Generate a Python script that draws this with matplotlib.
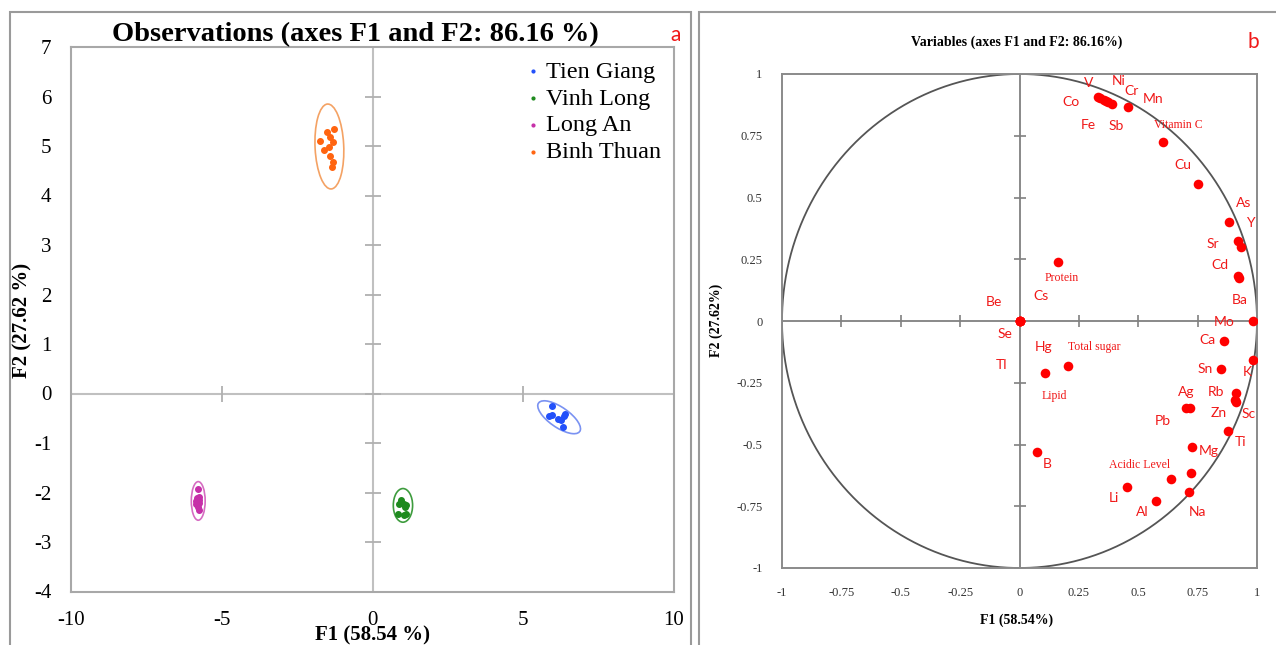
import numpy as np
import matplotlib
matplotlib.use('Agg')
import matplotlib.pyplot as plt
from matplotlib.patches import Ellipse, Rectangle

# ---------------- panel a : observations ----------------
groups = ['Tien Giang', 'Vinh Long', 'Long An', 'Binh Thuan']
group_colors = ['#2250FA', '#1E8A1E', '#C62FA8', '#FF6410']
ellipse_colors = ['#7A92F2', '#3E9C3E', '#D66CC2', '#F4A264']

tien_giang_f1 = [5.96, 5.85, 5.96, 6.15, 6.26, 6.34, 6.39, 6.31]
tien_giang_f2 = [-0.26, -0.46, -0.44, -0.52, -0.53, -0.46, -0.42, -0.67]
vinh_long_f1 = [0.93, 1.04, 0.89, 1.10, 0.85, 1.04, 1.12, 0.96, 1.08]
vinh_long_f2 = [-2.15, -2.23, -2.23, -2.26, -2.44, -2.46, -2.44, -2.20, -2.30]
long_an_f1 = [-5.79, -5.83, -5.76, -5.86, -5.74, -5.80, -5.84, -5.77, -5.78, -5.75]
long_an_f2 = [-1.93, -2.12, -2.10, -2.18, -2.16, -2.20, -2.24, -2.22, -2.30, -2.35]
binh_thuan_f1 = [-1.27, -1.50, -1.41, -1.75, -1.32, -1.45, -1.61, -1.41, -1.30, -1.34]
binh_thuan_f2 = [5.34, 5.28, 5.19, 5.10, 5.09, 4.97, 4.92, 4.79, 4.68, 4.57]

# confidence ellipses: centre, major, minor, angle (data units)
ell_center_f1 = [6.19, 1.01, -5.78, -1.43]
ell_center_f2 = [-0.48, -2.26, -2.17, 4.99]
ell_major = [1.50, 0.68, 0.78, 1.72]
ell_minor = [0.45, 0.64, 0.46, 0.95]
ell_angle = [-20, 90, 90, 95]

obs_xticks = [-10, -5, 0, 5, 10]
obs_yticks = list(range(-4, 8))

# ---------------- panel b : variables ----------------
var_names = ['V', 'Ni', 'Co', 'Fe', 'Cr', 'Sb', 'Mn', 'Vitamin C', 'Cu', 'As',
             'Sr', 'Y', 'Cd', 'Ba', 'Mo', 'Ca', 'K', 'Sn', 'Rb', 'Sc', 'Zn',
             'Ag', 'Pb', 'Ti', 'Mg', '', 'Acidic Level', 'Na', 'Li', 'Al', 'B',
             'Lipid', 'Total sugar', 'Protein', 'Hg', 'Cs', 'Be', 'Se', 'Tl']
var_f1 = [0.330, 0.340, 0.354, 0.365, 0.373, 0.389, 0.456, 0.604, 0.751, 0.882,
          0.922, 0.932, 0.920, 0.923, 0.983, 0.862, 0.983, 0.848, 0.911, 0.911, 0.906,
          0.716, 0.702, 0.876, 0.726, 0.723, 0.639, 0.715, 0.452, 0.574, 0.073,
          0.108, 0.204, 0.164, 0.0, 0.0, 0.0, 0.0, 0.0]
var_f2 = [0.908, 0.904, 0.895, 0.889, 0.887, 0.877, 0.865, 0.726, 0.555, 0.400,
          0.324, 0.301, 0.183, 0.176, 0.001, -0.080, -0.158, -0.196, -0.290, -0.327, -0.320,
          -0.351, -0.351, -0.444, -0.511, -0.614, -0.641, -0.691, -0.671, -0.730, -0.530,
          -0.212, -0.183, 0.240, 0.0, 0.0, 0.0, 0.0, 0.0]
serif_vars = ['Vitamin C', 'Acidic Level', 'Lipid', 'Total sugar', 'Protein']

# label offsets in pixels (placement only)
label_offsets = {
    'V': (-9, 14), 'Ni': (18, 17), 'Co': (-33, -2), 'Fe': (-18, -24), 'Cr': (23, 11),
    'Sb': (4, -22), 'Mn': (25, 8), 'Vitamin C': (15, 17), 'Cu': (-15, 19), 'As': (15, 19),
    'Sr': (-26, -3), 'Y': (9, 24), 'Cd': (-18, 11), 'Ba': (1, -22), 'Mo': (-29, -1),
    'Ca': (-17, 1), 'K': (-6, -12), 'Sn': (-16, 0), 'Rb': (-20, 1), 'Sc': (13, -12),
    'Zn': (-16, -13), 'Ag': (-3, 16), 'Pb': (-23, -13), 'Ti': (13, -11), 'Mg': (17, -4),
    'Acidic Level': (-32, 14), 'Na': (8, -20), 'Li': (-13, -11), 'Al': (-14, -11),
    'B': (10, -12), 'Lipid': (9, -23), 'Total sugar': (26, 19), 'Protein': (3, -16),
    'Hg': (24, -26), 'Cs': (22, 25), 'Be': (-26, 19), 'Se': (-15, -13), 'Tl': (-18, -44),
}
var_ticks = [-1, -0.75, -0.5, -0.25, 0, 0.25, 0.5, 0.75, 1]
var_ticklabels = ['-1', '-0.75', '-0.5', '-0.25', '0', '0.25', '0.5', '0.75', '1']

plt.rcParams['axes.unicode_minus'] = False

W, H = 1276, 645
fig = plt.figure(figsize=(W / 100, H / 100), dpi=100)
SERIF = 'Liberation Serif'
SANS = 'Lato'
RED = '#F01818'


def fx(px):
    return px / W


def fy(py):
    return 1 - py / H


# panel frames
fig.patches.append(Rectangle((fx(10), fy(660)), fx(681), (660 - 12) / H, transform=fig.transFigure,
                             fill=False, ec='#9A9A9A', lw=1.5))
fig.patches.append(Rectangle((fx(699), fy(660)), fx(590), (660 - 12) / H, transform=fig.transFigure,
                             fill=False, ec='#9A9A9A', lw=1.5))

# ---- panel a ----
ax1 = fig.add_axes([fx(71), fy(591.5), fx(674 - 71), (591.5 - 47) / H])
ax1.set_xlim(-10, 10)
ax1.set_ylim(-4, 7)
ax1.axhline(0, color='#C0C0C0', lw=1.5, zorder=1)
ax1.axvline(0, color='#C0C0C0', lw=1.5, zorder=1)
xt = [t for t in obs_xticks if t != 0]
ax1.plot(xt, np.zeros(len(xt)), ls='none', marker='|', ms=11, mew=1.3, color='#B0B0B0', zorder=1)
ax1.plot(np.zeros(len(obs_yticks)), obs_yticks, ls='none', marker='_', ms=11, mew=1.3,
         color='#B0B0B0', zorder=1)

all_f1 = [tien_giang_f1, vinh_long_f1, long_an_f1, binh_thuan_f1]
all_f2 = [tien_giang_f2, vinh_long_f2, long_an_f2, binh_thuan_f2]
for i, g in enumerate(groups):
    ax1.scatter(all_f1[i], all_f2[i], s=16, color=group_colors[i], label=g, zorder=3)
    ax1.add_patch(Ellipse((ell_center_f1[i], ell_center_f2[i]), ell_major[i], ell_minor[i],
                          angle=ell_angle[i], fill=False, ec=ellipse_colors[i], lw=1.2, zorder=2))

ax1.set_xticks(obs_xticks)
ax1.set_yticks(obs_yticks)
ax1.tick_params(length=0, labelsize=15, pad=14)
for lab in ax1.get_xticklabels() + ax1.get_yticklabels():
    lab.set_family(SERIF)
for s in ax1.spines.values():
    s.set_color('#A8A8A8')
    s.set_linewidth(1.5)
leg = ax1.legend(loc='upper right', frameon=False, prop={'family': SERIF, 'size': 17.5},
                 handletextpad=0.1, labelspacing=0.2, markerscale=0.5,
                 bbox_to_anchor=(1.015, 1.015), handlelength=0.9)

fig.text(fx(355), fy(35), 'Observations (axes F1 and F2: 86.16 %)', family=SERIF,
         weight='bold', size=20.5, ha='center', va='center')
fig.text(fx(676), fy(35), 'a', family=SANS, color=RED, size=15, ha='center', va='center')
fig.text(fx(372), fy(635), 'F1 (58.54 %)', family=SERIF, weight='bold', size=15,
         ha='center', va='center')
fig.text(fx(22), fy(320), 'F2 (27.62 %)', family=SERIF, weight='bold', size=15,
         ha='center', va='center', rotation=90)

# ---- panel b ----
ax2 = fig.add_axes([fx(782), fy(568), fx(1257 - 782), (568 - 74) / H])
ax2.set_xlim(-1, 1)
ax2.set_ylim(-1, 1)
ax2.axhline(0, color='#808080', lw=1.3, zorder=1)
ax2.axvline(0, color='#808080', lw=1.3, zorder=1)
vt = [t for t in var_ticks if t != 0]
ax2.plot(vt, np.zeros(len(vt)), ls='none', marker='|', ms=8, mew=1.2, color='#808080', zorder=1)
ax2.plot(np.zeros(len(vt)), vt, ls='none', marker='_', ms=8, mew=1.2, color='#808080', zorder=1)
theta = np.linspace(0, 2 * np.pi, 400)
ax2.plot(np.cos(theta), np.sin(theta), color='#555555', lw=1.3, zorder=2)
ax2.scatter(var_f1, var_f2, s=48, color='#FF0000', zorder=3, linewidths=0)
for name, x, y in zip(var_names, var_f1, var_f2):
    if not name:
        continue
    dx, dy = label_offsets[name]
    if name in serif_vars:
        ax2.annotate(name, (x, y), xytext=(dx, dy), textcoords='offset pixels', ha='center',
                     va='center', family=SERIF, size=8.5, color=RED)
    else:
        ax2.annotate(name, (x, y), xytext=(dx, dy), textcoords='offset pixels', ha='center',
                     va='center', family=SANS, size=10, color=RED)
ax2.set_xticks(var_ticks)
ax2.set_xticklabels(var_ticklabels)
ax2.set_yticks(var_ticks)
ax2.set_yticklabels(var_ticklabels)
ax2.tick_params(length=0, labelsize=9, pad=14, labelcolor='#333333')
for lab in ax2.get_xticklabels() + ax2.get_yticklabels():
    lab.set_family(SERIF)
for s in ax2.spines.values():
    s.set_color('#8A8A8A')
    s.set_linewidth(1.4)

fig.text(fx(1017), fy(42), 'Variables (axes F1 and F2: 86.16%)', family=SERIF,
         weight='bold', size=10, ha='center', va='center')
fig.text(fx(1253), fy(42), 'b', family=SANS, color=RED, size=15, ha='center', va='center')
fig.text(fx(1017), fy(620), 'F1 (58.54%)', family=SERIF, weight='bold', size=10,
         ha='center', va='center')
fig.text(fx(716), fy(320), 'F2 (27.62%)', family=SERIF, weight='bold', size=10,
         ha='center', va='center', rotation=90)

fig.savefig('out.png', dpi=100)
